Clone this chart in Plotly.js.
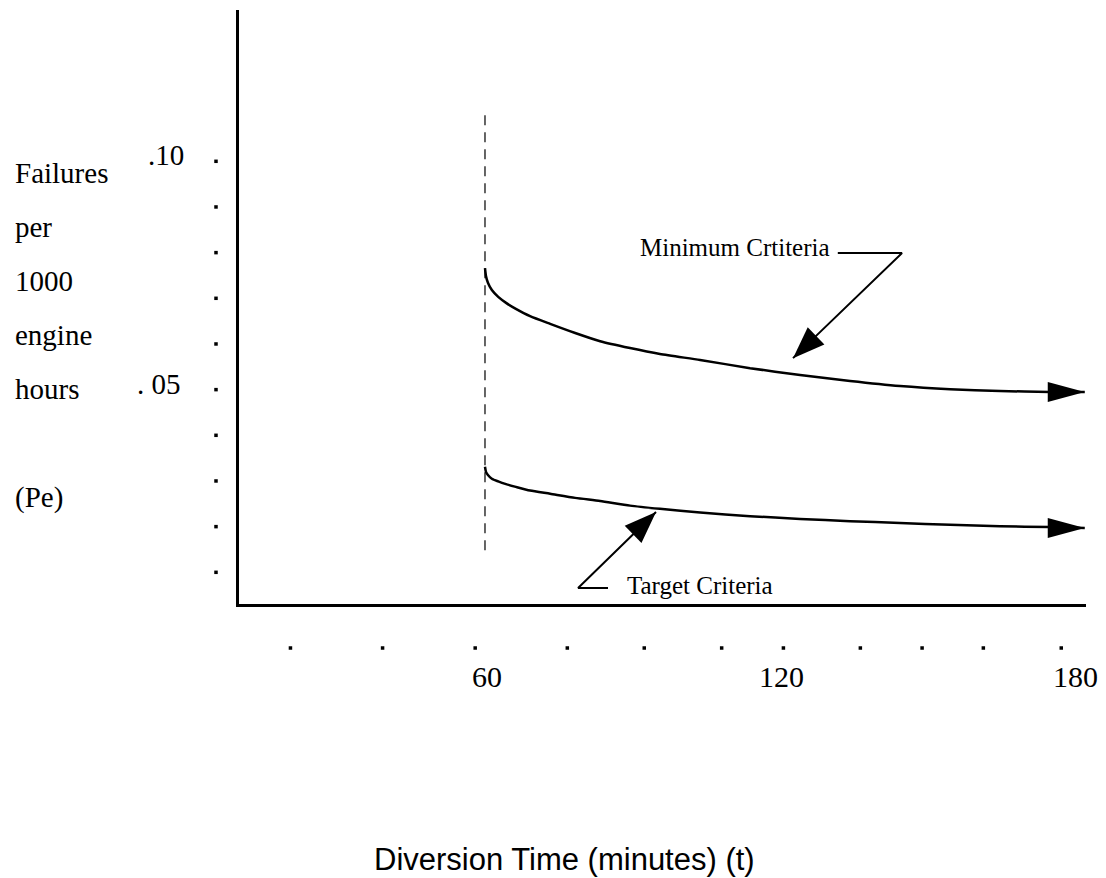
<!DOCTYPE html>
<html>
<head>
<meta charset="utf-8">
<script src="https://cdn.plot.ly/plotly-3.0.1.min.js"></script>
<style>
html,body{margin:0;padding:0;background:#fff;}
#chart{width:1106px;height:878px;}
</style>
</head>
<body>
<div id="chart"></div>
<script>
// ---------------- data ----------------
const diversionTime = [60, 60.2, 60.6, 61.4, 62.7, 64.3, 66.3, 69.2, 73.3, 78.4, 83.5, 89.6, 95.7, 103.9, 114.1, 124.3, 134.5, 144.7, 154.9, 165.1, 175.3, 182.4];
const minimumCriteria = [0.0766, 0.0749, 0.0734, 0.0718, 0.0703, 0.0690, 0.0677, 0.0661, 0.0644, 0.0624, 0.0606, 0.0591, 0.0578, 0.0565, 0.0547, 0.0532, 0.0519, 0.0508, 0.0501, 0.0497, 0.0495, 0.0495];
const targetCriteria = [0.0331, 0.0320, 0.0313, 0.0305, 0.0299, 0.0293, 0.0287, 0.0279, 0.0272, 0.0263, 0.0256, 0.0246, 0.0239, 0.0231, 0.0223, 0.0217, 0.0212, 0.0208, 0.0204, 0.0201, 0.0199, 0.0197];

const xTickVals = [60, 120, 180];
const xTickText = ['60', '120', '180'];
const xDotTicks = [20.3, 39.1, 58.0, 76.8, 92.5, 108.3, 120.9, 136.6, 149.2, 161.7, 177.6];
const yTickVals = [0.10, 0.05];
const yTickText = ['.10', '. 05'];
const yDotTicks = [0.10, 0.09, 0.08, 0.07, 0.06, 0.05, 0.04, 0.03, 0.02, 0.01];
const yTitleLines = ['Failures', 'per', '1000', 'engine', 'hours', '(Pe)'];
const xTitleText = 'Diversion Time (minutes) (t)';
const minimumLabel = 'Minimum Crtiteria';
const targetLabel = 'Target Criteria';
const dashedTime = 60;
const dashedSpan = [0.1101, 0.0138];

// ---------------- layout geometry (pixels) ----------------
const W = 1106, H = 878;
const PLOT = {left: 239, right: 1086, top: 10, bottom: 604};
const X_RANGE = [9.8, 182.65];
const Y_RANGE = [0.00306, 0.13313];
const plotW = PLOT.right - PLOT.left, plotH = PLOT.bottom - PLOT.top;
const pxPerX = plotW / (X_RANGE[1] - X_RANGE[0]);
const pxPerY = plotH / (Y_RANGE[1] - Y_RANGE[0]);
// full-figure overlay axes sharing the same units
const X2_RANGE = [X_RANGE[0] - PLOT.left / pxPerX, X_RANGE[1] + (W - PLOT.right) / pxPerX];
const Y2_RANGE = [Y_RANGE[0] - (H - PLOT.bottom) / pxPerY, Y_RANGE[1] + PLOT.top / pxPerY];
const paperX = px => px / W;
const paperY = py => 1 - py / H;

const SERIF = 'Liberation Serif, Times New Roman, serif';
const SANS = 'Liberation Sans, Arial, sans-serif';
const BLACK = '#000';

// label line centres, tick-dot offsets
const yTitleCenters = [173, 227, 281, 335, 389, 497];
const yLabelCenters = [166, 159];
const xDotRowY = Y_RANGE[0] - (648 - PLOT.bottom) / pxPerY;
const yDotColX = X_RANGE[0] - (PLOT.left - 216) / pxPerX;

// pointer geometry (label position, elbow segment, arrow tip) in data units
const minPointer = {label: [91.2, 0.0812], elbow: [[132.0, 0.0799], [145.1, 0.0799]], tip: [122.86, 0.0569]};
const tgtPointer = {label: [88.6, 0.00722], elbow: [[85.1, 0.00657], [79.0, 0.00657]], tip: [94.9, 0.0232]};

// arrowhead triangle path (pixel offsets, y up) pointing along (dx,dy)
function headPath(dx, dy, L, Wd) {
  const len = Math.hypot(dx, dy);
  const ux = dx / len, uy = dy / len;
  const bx = -L * ux, by = -L * uy;
  const nx = -uy, ny = ux;
  const c1 = [bx + Wd * nx, by + Wd * ny], c2 = [bx - Wd * nx, by - Wd * ny];
  return `M0,0 L${c1[0].toFixed(2)},${c1[1].toFixed(2)} L${c2[0].toFixed(2)},${c2[1].toFixed(2)} Z`;
}
function headShape(tipX, tipY, fromX, fromY, L, Wd) {
  const dx = (tipX - fromX) * pxPerX, dy = (tipY - fromY) * pxPerY;
  return {type: 'path', xref: 'x', yref: 'y', xsizemode: 'pixel', ysizemode: 'pixel',
    xanchor: tipX, yanchor: tipY, path: headPath(dx, dy, L, Wd),
    fillcolor: BLACK, line: {width: 0}, layer: 'above'};
}

const lastI = diversionTime.length - 1;

// ---------------- traces ----------------
const traces = [
  {x: [dashedTime, dashedTime], y: dashedSpan, mode: 'lines', line: {color: BLACK, width: 1.2, dash: '10px,7px'}, hoverinfo: 'skip'},
  {x: diversionTime, y: minimumCriteria, mode: 'lines', line: {color: BLACK, width: 2.5, shape: 'spline', smoothing: 0.6}, name: 'Minimum Criteria'},
  {x: diversionTime, y: targetCriteria, mode: 'lines', line: {color: BLACK, width: 2.5, shape: 'spline', smoothing: 0.6}, name: 'Target Criteria'},
  // pointer lines
  {x: [minPointer.elbow[0][0], minPointer.elbow[1][0], minPointer.tip[0]],
   y: [minPointer.elbow[0][1], minPointer.elbow[1][1], minPointer.tip[1]],
   mode: 'lines', line: {color: BLACK, width: 2}, hoverinfo: 'skip'},
  {x: [tgtPointer.elbow[0][0], tgtPointer.elbow[1][0], tgtPointer.tip[0]],
   y: [tgtPointer.elbow[0][1], tgtPointer.elbow[1][1], tgtPointer.tip[1]],
   mode: 'lines', line: {color: BLACK, width: 2}, hoverinfo: 'skip'},
  // dotted tick marks (drawn on the full-figure overlay axes)
  {x: xDotTicks, y: xDotTicks.map(() => xDotRowY), xaxis: 'x2', yaxis: 'y2', mode: 'markers',
   marker: {symbol: 'square', size: 3.5, color: BLACK}, hoverinfo: 'skip'},
  {x: yDotTicks.map(() => yDotColX), y: yDotTicks, xaxis: 'x2', yaxis: 'y2', mode: 'markers',
   marker: {symbol: 'square', size: 3.5, color: BLACK}, hoverinfo: 'skip'}
];

// ---------------- annotations ----------------
const annotations = [];
yTitleLines.forEach((t, i) => {
  annotations.push({xref: 'paper', yref: 'paper', x: paperX(13), y: paperY(yTitleCenters[i]),
    xanchor: 'left', yanchor: 'middle', text: t, showarrow: false,
    font: {family: SERIF, size: 29, color: BLACK}});
});
yTickVals.forEach((v, i) => {
  annotations.push({xref: 'paper', yref: 'y', x: paperX(yLabelCenters[i]), y: v, yshift: 6,
    xanchor: 'center', yanchor: 'middle', text: yTickText[i], showarrow: false,
    font: {family: SERIF, size: 29, color: BLACK}});
});
xTickVals.forEach((v, i) => {
  annotations.push({xref: 'x', yref: 'paper', x: v, y: paperY(676), xshift: 2,
    xanchor: 'center', yanchor: 'middle', text: xTickText[i], showarrow: false,
    font: {family: SERIF, size: 30, color: BLACK}});
});
annotations.push({xref: 'paper', yref: 'paper', x: paperX(564), y: paperY(859),
  xanchor: 'center', yanchor: 'middle', text: xTitleText, showarrow: false,
  font: {family: SANS, size: 31, color: BLACK}});
annotations.push({xref: 'x', yref: 'y', x: minPointer.label[0], y: minPointer.label[1],
  xanchor: 'left', yanchor: 'middle', text: minimumLabel, showarrow: false,
  font: {family: SERIF, size: 25, color: BLACK}});
annotations.push({xref: 'x', yref: 'y', x: tgtPointer.label[0], y: tgtPointer.label[1],
  xanchor: 'left', yanchor: 'middle', text: targetLabel, showarrow: false,
  font: {family: SERIF, size: 25, color: BLACK}});

// ---------------- arrowheads ----------------
const shapes = [
  headShape(diversionTime[lastI], minimumCriteria[lastI], diversionTime[lastI] - 10, minimumCriteria[lastI], 37, 10),
  headShape(diversionTime[lastI], targetCriteria[lastI], diversionTime[lastI] - 10, targetCriteria[lastI], 37, 10),
  headShape(minPointer.tip[0], minPointer.tip[1], minPointer.elbow[1][0], minPointer.elbow[1][1], 32, 12),
  headShape(tgtPointer.tip[0], tgtPointer.tip[1], tgtPointer.elbow[1][0], tgtPointer.elbow[1][1], 32, 12)
];

const axisBase = {showline: true, linewidth: 3, linecolor: BLACK, showgrid: false, zeroline: false,
  showticklabels: false, ticks: '', fixedrange: true};

const layout = {
  width: W, height: H,
  margin: {l: 0, r: 0, t: 0, b: 0, pad: 0},
  paper_bgcolor: '#fff', plot_bgcolor: 'rgba(0,0,0,0)',
  showlegend: false,
  xaxis: Object.assign({range: X_RANGE, domain: [PLOT.left / W, PLOT.right / W], anchor: 'y'}, axisBase),
  yaxis: Object.assign({range: Y_RANGE, domain: [1 - PLOT.bottom / H, 1 - PLOT.top / H], anchor: 'x'}, axisBase),
  xaxis2: {range: X2_RANGE, domain: [0, 1], anchor: 'y2', visible: false, fixedrange: true},
  yaxis2: {range: Y2_RANGE, domain: [0, 1], anchor: 'x2', visible: false, fixedrange: true},
  annotations: annotations,
  shapes: shapes
};

Plotly.newPlot('chart', traces, layout, {displayModeBar: false, staticPlot: true});
</script>
</body>
</html>
